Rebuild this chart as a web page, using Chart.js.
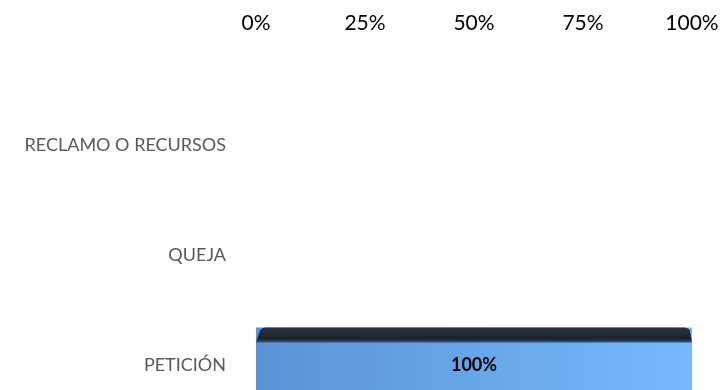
<!DOCTYPE html>
<html>
<head>
<meta charset="utf-8">
<script src="https://cdn.jsdelivr.net/npm/chart.js@4/dist/chart.umd.min.js"></script>
<style>
  html, body { margin: 0; padding: 0; background: #fff; overflow: hidden; }
  #wrap { width: 724px; height: 440px; }
</style>
</head>
<body>
<div id="wrap"><canvas id="chart" width="724" height="440"></canvas></div>
<script>
const categories = ['RECLAMO O RECURSOS', 'QUEJA', 'PETICIÓN'];
const shares = [0, 0, 100];
const tickValues = [0, 25, 50, 75, 100];

const FONT = 'Lato, "Open Sans", sans-serif';

// dark top face + value label drawn on the bars
const bevelPlugin = {
  id: 'bevel',
  afterDatasetsDraw(chart) {
    const ctx = chart.ctx;
    const meta = chart.getDatasetMeta(0);
    meta.data.forEach((bar, i) => {
      if (!shares[i]) return;
      const { x, y, base, height } = bar.getProps(['x', 'y', 'base', 'height'], true);
      const top = y - height / 2;
      const depth = 15;
      ctx.save();
      const g = ctx.createLinearGradient(0, top, 0, top + depth);
      g.addColorStop(0, '#2a3440');
      g.addColorStop(0.75, '#1a222c');
      g.addColorStop(1, '#3b5878');
      ctx.fillStyle = g;
      ctx.beginPath();
      ctx.moveTo(base, top + depth);
      ctx.lineTo(base + 4, top + 3);
      ctx.quadraticCurveTo(base + 6, top, base + 10, top);
      ctx.lineTo(x - 8, top);
      ctx.quadraticCurveTo(x - 4, top, x - 2, top + 3);
      ctx.lineTo(x, top + depth);
      ctx.closePath();
      ctx.fill();

      ctx.fillStyle = '#000';
      ctx.font = 'bold 18px ' + FONT;
      ctx.textAlign = 'center';
      ctx.textBaseline = 'middle';
      ctx.fillText(shares[i] + '%', (base + x) / 2, y);
      ctx.restore();
    });
  }
};

new Chart(document.getElementById('chart'), {
  type: 'bar',
  data: {
    labels: categories,
    datasets: [{
      data: shares,
      backgroundColor: (c) => {
        const area = c.chart.chartArea;
        if (!area) return '#6aa6ec';
        const g = c.chart.ctx.createLinearGradient(area.left, 0, area.right, 0);
        g.addColorStop(0, '#5b92d6');
        g.addColorStop(1, '#76b8fb');
        return g;
      },
      borderWidth: 0,
      barPercentage: 0.85,
      categoryPercentage: 0.8
    }]
  },
  options: {
    indexAxis: 'y',
    responsive: false,
    animation: false,
    layout: { padding: { top: 10, right: 32, bottom: 20, left: 0 } },
    plugins: { legend: { display: false }, tooltip: { enabled: false } },
    scales: {
      x: {
        position: 'top',
        min: 0,
        max: 100,
        afterBuildTicks: (scale) => { scale.ticks = tickValues.map(v => ({ value: v })); },
        afterFit: (scale) => {
          scale.height = 80;
          scale.paddingLeft = 0;
          scale.paddingRight = 0;
        },
        grid: { display: false, drawTicks: false },
        border: { display: false },
        ticks: {
          padding: 54,
          color: '#000',
          font: { family: FONT, size: 21 },
          callback: v => v + '%'
        }
      },
      y: {
        grid: { display: false, drawTicks: false },
        border: { display: false },
        afterFit: (scale) => {
          scale.width = 256;
          scale.paddingTop = 0;
          scale.paddingBottom = 0;
        },
        ticks: {
          padding: 30,
          color: '#595959',
          font: { family: FONT, size: 18 }
        }
      }
    }
  },
  plugins: [bevelPlugin]
});
</script>
</body>
</html>
